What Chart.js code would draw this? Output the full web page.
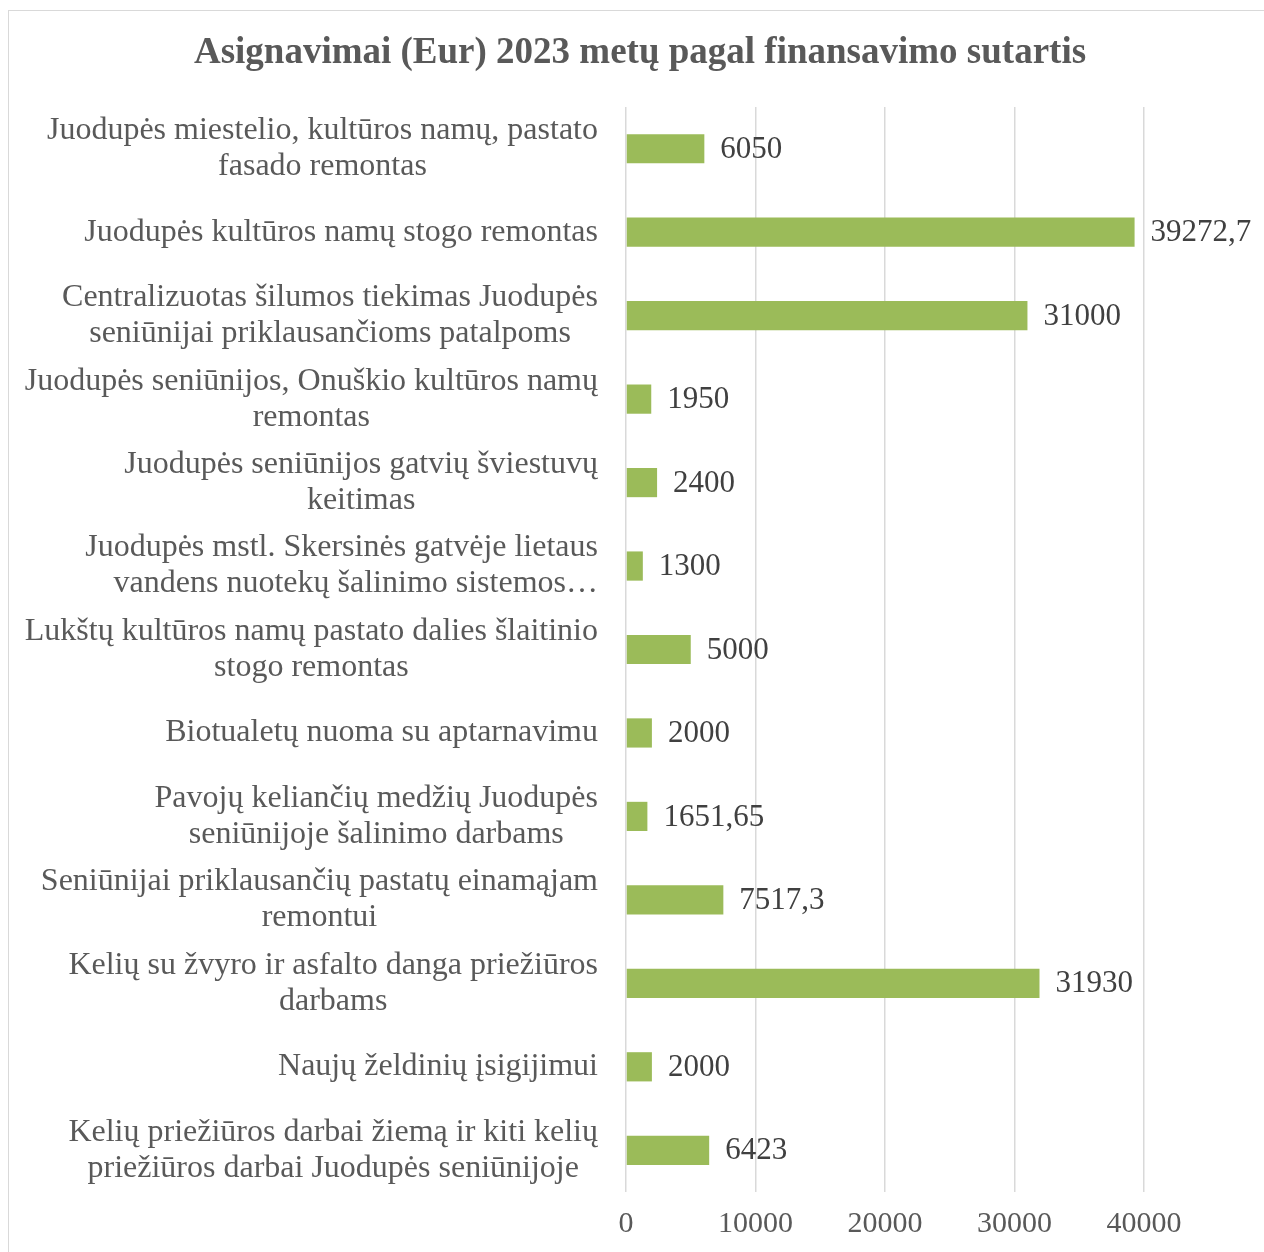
<!DOCTYPE html>
<html>
<head>
<meta charset="utf-8">
<script src="https://cdn.jsdelivr.net/npm/chart.js@4/dist/chart.umd.min.js"></script>
<style>
    html, body { margin: 0; padding: 0; background: #fff; overflow: hidden; }
    #frame {
        position: absolute; left: 8px; top: 10px;
        width: 1300px; height: 1300px;
        border: 1px solid #d9d9d9;
    }
    #wrap { position: absolute; left: 0; top: 0; width: 1264px; height: 1252px; }
</style>
</head>
<body>
<div id="frame"></div>
<div id="wrap"><canvas id="chart"></canvas></div>
<script>
    // Chart data
    const chartTitle = "Asignavimai (Eur) 2023 metų pagal finansavimo sutartis";
    const categories = [
        ["Juodupės miestelio, kultūros namų, pastato", "fasado remontas"],
        ["Juodupės kultūros namų stogo remontas"],
        ["Centralizuotas šilumos tiekimas Juodupės", "seniūnijai priklausančioms patalpoms"],
        ["Juodupės seniūnijos, Onuškio kultūros namų", "remontas"],
        ["Juodupės seniūnijos gatvių šviestuvų", "keitimas"],
        ["Juodupės mstl. Skersinės gatvėje lietaus", "vandens nuotekų šalinimo sistemos…"],
        ["Lukštų kultūros namų pastato dalies šlaitinio", "stogo remontas"],
        ["Biotualetų nuoma su aptarnavimu"],
        ["Pavojų keliančių medžių Juodupės", "seniūnijoje šalinimo darbams"],
        ["Seniūnijai priklausančių pastatų einamąjam", "remontui"],
        ["Kelių su žvyro ir asfalto danga priežiūros", "darbams"],
        ["Naujų želdinių įsigijimui"],
        ["Kelių priežiūros darbai žiemą ir kiti kelių", "priežiūros darbai Juodupės seniūnijoje"]
    ];
    const amounts = [6050, 39272.7, 31000, 1950, 2400, 1300, 5000, 2000, 1651.65, 7517.3, 31930, 2000, 6423];
    const xTicks = [0, 10000, 20000, 30000, 40000];

    const serif = "'Liberation Serif', 'Times New Roman', serif";

    // Title drawn centred on the page
    const pageTitle = {
        id: "pageTitle",
        afterDraw(chart) {
            const ctx = chart.ctx;
            ctx.save();
            ctx.font = "bold 37px " + serif;
            ctx.fillStyle = "#595959";
            ctx.textAlign = "center";
            ctx.textBaseline = "middle";
            ctx.fillText(chartTitle, 640, 53);
            ctx.restore();
        }
    };

    // Category labels: block right-aligned, lines centred inside the block
    // (a truncated label, ending in "…", stays right-aligned)
    const categoryLabels = {
        id: "categoryLabels",
        afterDraw(chart) {
            const ctx = chart.ctx;
            const yScale = chart.scales.y;
            const rightEdge = chart.chartArea.left - 28;
            const lineH = 36;
            ctx.save();
            ctx.font = "32px " + serif;
            ctx.fillStyle = "#595959";
            ctx.textBaseline = "middle";
            categories.forEach((lines, i) => {
                const y = yScale.getPixelForValue(i);
                const top = y - (lines.length - 1) * lineH / 2;
                const truncated = lines[lines.length - 1].endsWith("…");
                if (truncated) {
                    ctx.textAlign = "right";
                    lines.forEach((l, k) => ctx.fillText(l, rightEdge, top + k * lineH));
                } else {
                    const w = Math.max(...lines.map((l) => ctx.measureText(l).width));
                    ctx.textAlign = "center";
                    lines.forEach((l, k) => ctx.fillText(l, rightEdge - w / 2, top + k * lineH));
                }
            });
            ctx.restore();
        }
    };

    // Value labels at the end of each bar
    const valueLabels = {
        id: "valueLabels",
        afterDatasetsDraw(chart) {
            const ctx = chart.ctx;
            const meta = chart.getDatasetMeta(0);
            ctx.save();
            ctx.font = "31px " + serif;
            ctx.fillStyle = "#404040";
            ctx.textAlign = "left";
            ctx.textBaseline = "middle";
            meta.data.forEach((bar, i) => {
                ctx.fillText(String(amounts[i]).replace(".", ","), bar.x + 16, bar.y + 1);
            });
            ctx.restore();
        }
    };

    const ctx = document.getElementById("chart").getContext("2d");
    new Chart(ctx, {
        type: "bar",
        data: {
            labels: categories.map((c) => c.join(" ")),
            datasets: [{
                data: amounts,
                backgroundColor: "#9bbb59",
                barPercentage: 0.7,
                categoryPercentage: 0.5
            }]
        },
        options: {
            indexAxis: "y",
            responsive: true,
            maintainAspectRatio: false,
            animation: false,
            layout: { padding: { left: 10, right: 120, top: 107, bottom: 0 } },
            plugins: {
                legend: { display: false },
                tooltip: { enabled: false },
                title: { display: false }
            },
            scales: {
                x: {
                    min: 0,
                    max: 40000,
                    afterBuildTicks: (scale) => {
                        scale.ticks = xTicks.map((v) => ({ value: v }));
                    },
                    afterFit: (scale) => { scale.height = 60; },
                    grid: { color: "#d9d9d9", lineWidth: 1.5, drawTicks: false },
                    border: { display: false },
                    ticks: {
                        color: "#595959",
                        padding: 14,
                        font: { family: serif, size: 30 },
                        callback: (v) => String(v)
                    }
                },
                y: {
                    afterFit: (scale) => { scale.width = 616; },
                    grid: { display: false },
                    border: { display: false },
                    ticks: { display: false }
                }
            }
        },
        plugins: [pageTitle, categoryLabels, valueLabels]
    });
</script>
</body>
</html>
